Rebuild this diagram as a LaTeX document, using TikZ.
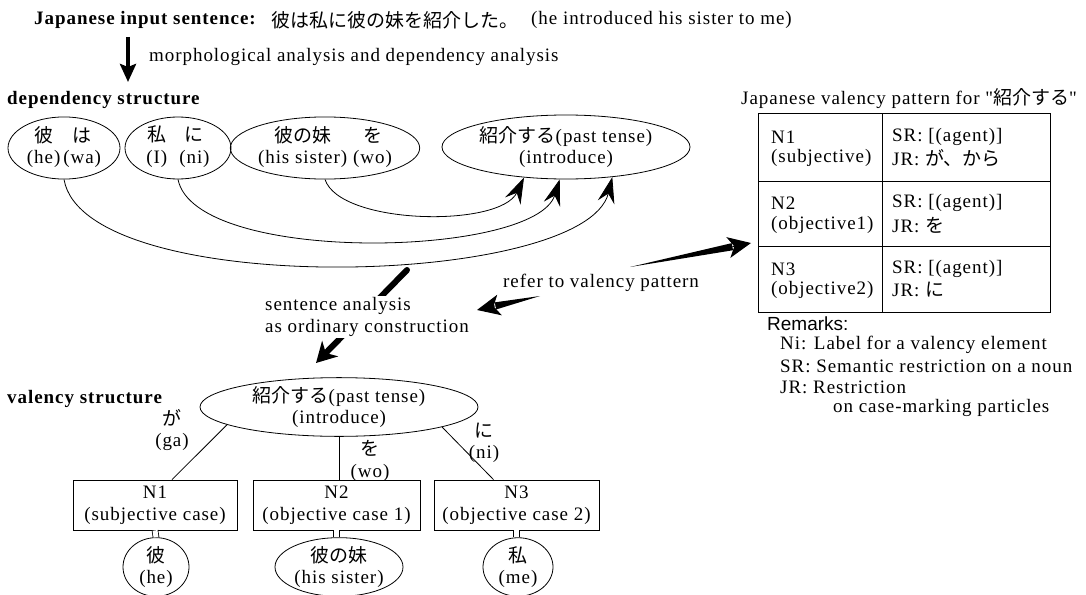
\documentclass[tikz,border=0pt]{standalone}
\usepackage{fontspec}
\setmainfont{Liberation Serif}[LetterSpace=5]
\setsansfont{Liberation Sans}
\newfontfamily\jp{Noto Sans CJK JP}
\newfontfamily\qfont{Liberation Serif}[Ligatures=TeXOff]
\usetikzlibrary{arrows.meta,shapes.geometric,calc}

% arrow whose shaft widens from the tail towards the head
\newcommand\taperarrow[2]{%
  \coordinate (tpH) at ($(#2)!19pt!(#1)$);
  \fill (#1) -- ($(tpH)!3.6pt!90:(#2)$) -- ($(tpH)!3.6pt!-90:(#2)$) -- cycle;
  \draw[line width=1pt, -{Stealth[length=23pt,width=21pt,inset=6pt]}] (tpH) -- (#2);
}

\begin{document}
\begin{tikzpicture}[x=1pt,y=-1pt,
  every node/.style={font=\fontsize{19}{21.5}\selectfont, inner sep=1pt},
  lbl/.style={anchor=west},
  head/.style={anchor=west, font=\fontsize{19}{21.5}\selectfont\bfseries},
  bub/.style={ellipse, draw, line width=0.8pt, inner sep=0pt, align=center},
  cbox/.style={rectangle, draw, line width=0.8pt, align=center, inner sep=0pt},
  link/.style={line width=0.8pt},
  grid/.style={line width=0.8pt},
  fat/.style={line width=4pt, -{Stealth[length=18pt,width=16pt,inset=3pt]}},
  dep/.style={line width=0.8pt, -{Stealth[length=26pt,width=17pt,inset=9pt]}},
  brush/.style={line width=6pt, line cap=round, -{Stealth[length=20pt,width=22pt,inset=6pt]}},
  pair/.style={double, double distance=5pt, line width=0.8pt},
]
\useasboundingbox (0,0) rectangle (1086,594);

% ---- input sentence and first analysis step ----
\node[head] (inhead) at (33,20) {Japanese input sentence:};
\node[lbl] (insent) at (270,20) {\jp 彼は私に彼の妹を紹介した。};
\node[lbl] (ingloss) at (530,20) {(he introduced his sister to me)};

\coordinate (m1) at (128,37);
\coordinate (m2) at (128,82);
\draw[fat] (m1) -- (m2);
\node[lbl] (morph) at (148,57) {morphological analysis and dependency analysis};

% ---- dependency structure ----
\node[head] (dephead) at (6,100) {dependency structure};

\node[bub, minimum width=112pt, minimum height=62pt] (e1) at (64,148)
  {\begin{tabular}{@{}c@{\hspace{3pt}}c@{}}{\jp 彼}&{\jp は}\\(he)&(wa)\end{tabular}};
\node[bub, minimum width=106pt, minimum height=62pt] (e2) at (178,148)
  {\begin{tabular}{@{}c@{\hspace{12pt}}c@{}}{\jp 私}&{\jp に}\\(I)&(ni)\end{tabular}};
\node[bub, minimum width=170pt, minimum height=62pt] (e3) at (325,148)
  {\begin{tabular}{@{}c@{\hspace{6pt}}c@{}}{\jp 彼の妹}&{\jp を}\\(his sister)&(wo)\end{tabular}};
\node[bub, minimum width=248pt, minimum height=64pt] (e4) at (566,147)
  {{\jp 紹介する}(past tense)\\(introduce)};

\draw[dep] (e3.south) .. controls (340,225) and (500,228) .. (e4.216);
\draw[dep] (e2.south) .. controls (195,265) and (535,258) .. (e4.259);
\draw[dep] (e1.south) .. controls (85,300) and (585,288) .. (e4.327);

% ---- sentence analysis step ----
\coordinate (s1) at (407,270);
\coordinate (s2) at (316,363);
\draw[brush] (s1) -- (s2);
\node[fill=white, align=left, inner sep=2pt] (sa) at (367,317)
  {sentence analysis\\ as ordinary construction};

% ---- reference to the valency pattern ----
\node[lbl] (refer) at (502,283) {refer to valency pattern};
\coordinate (r1) at (540,296);
\coordinate (r2) at (477,310);
\taperarrow{r1}{r2}
\coordinate (r3) at (630,267);
\coordinate (r4) at (751,243);
\taperarrow{r3}{r4}

% ---- valency pattern table ----
\node[anchor=base west] (ttl) at (740,104)
  {Japanese valency pattern for {\qfont"}{\jp 紹介する}{\qfont"}};
\node[draw, line width=0.8pt, minimum width=292pt, minimum height=199pt, inner sep=0pt] (tbl) at (904,212.5) {};
\draw[grid] (882,113) -- (882,312);
\draw[grid] (758,181) -- (1050,181);
\draw[grid] (758,246) -- (1050,246);

\node[lbl] (t1a) at (770,137) {N1};
\node[lbl] (t1b) at (770,158) {(subjective)};
\node[lbl] (t1c) at (891,137) {SR: [(agent)]};
\node[lbl] (t1d) at (891,158) {JR: {\jp が、から}};
\node[lbl] (t2a) at (770,203) {N2};
\node[lbl] (t2b) at (770,225) {(objective1)};
\node[lbl] (t2c) at (891,203) {SR: [(agent)]};
\node[lbl] (t2d) at (891,225) {JR: {\jp を}};
\node[lbl] (t3a) at (770,269) {N3};
\node[lbl] (t3b) at (770,290) {(objective2)};
\node[lbl] (t3c) at (891,269) {SR: [(agent)]};
\node[lbl] (t3d) at (891,290) {JR: {\jp に}};

\node[lbl, font=\sffamily\fontsize{19}{21.5}\selectfont] (rem) at (766,324) {Remarks:};
\node[lbl] (remni) at (779,345) {Ni: Label for a valency element};
\node[lbl] (remsr) at (779,366) {SR: Semantic restriction on a noun};
\node[lbl] (remjr) at (779,387) {JR: Restriction};
\node[lbl] (remjr2) at (832,408) {on case-marking particles};

% ---- valency structure ----
\node[head] (valhead) at (6,399) {valency structure};
\node[bub, minimum width=278pt, minimum height=52pt] (e5) at (339,407)
  {{\jp 紹介する}(past tense)\\(introduce)};

\node[cbox, minimum width=164pt, minimum height=50pt] (n1) at (155,505) {N1\\(subjective case)};
\node[cbox, minimum width=167pt, minimum height=50pt] (n2) at (336.5,505) {N2\\(objective case 1)};
\node[cbox, minimum width=165pt, minimum height=50pt] (n3) at (516.5,505) {N3\\(objective case 2)};

\draw[link] (e5.189) -- ($(n1.north)+(17,0)$);
\draw[link] (e5.south) -- (e5.south |- n2.north);
\draw[link] (e5.349) -- ($(n3.north)+(-23,0)$);

\node[align=center] (ga) at (172,430) {{\jp が}\\(ga)};
\node[align=center] (wo) at (370,461) {{\jp を}\\(wo)};
\node[align=center] (ni) at (484,443) {{\jp に}\\(ni)};

\node[bub, minimum width=66pt, minimum height=54pt] (b1) at (156,567) {{\jp 彼}\\(he)};
\node[bub, minimum width=128pt, minimum height=54pt] (b2) at (339,567) {{\jp 彼の妹}\\(his sister)};
\node[bub, minimum width=70pt, minimum height=54pt] (b3) at (518,567) {{\jp 私}\\(me)};

\draw[pair] (n1.south) -- (b1.north);
\draw[pair] (n2.south) -- (n2.south |- b2.north);
\draw[pair] (n3.south) -- (n3.south |- b3.north);
\end{tikzpicture}
\end{document}
